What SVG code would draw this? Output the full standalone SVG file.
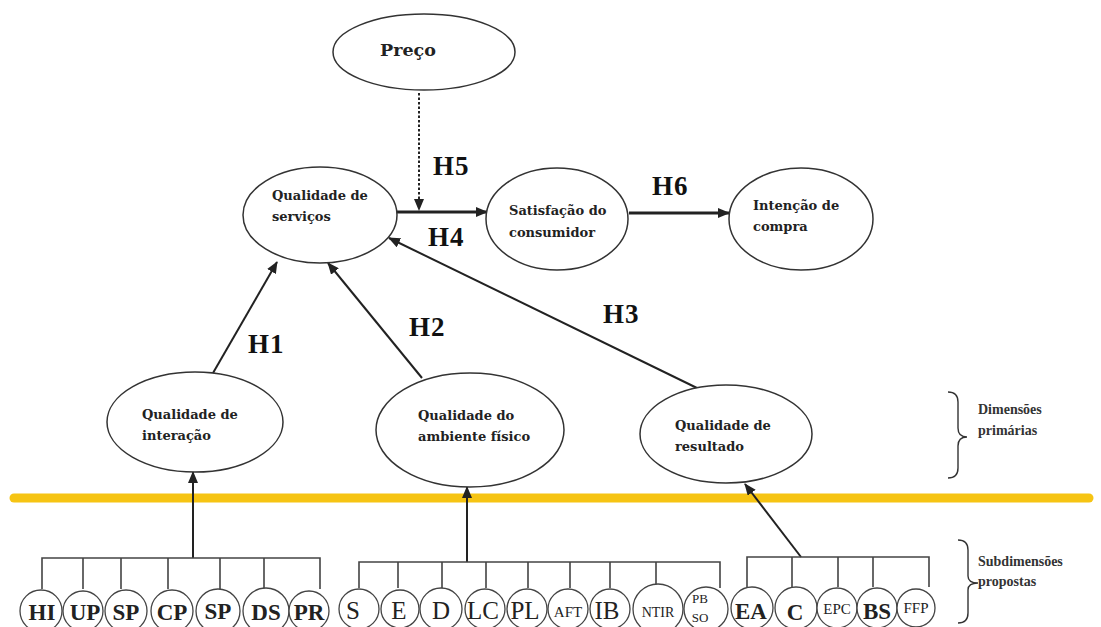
<svg xmlns="http://www.w3.org/2000/svg" width="1101" height="627" viewBox="0 0 1101 627">
  <style>
    .node { fill: #ffffff; stroke: #333333; stroke-width: 1.5; }
    .sub { fill: #ffffff; stroke: #444444; stroke-width: 1.3; }
    .lbl { font-family: "DejaVu Serif", "Liberation Serif", serif; font-weight: bold; font-size: 13px; fill: #222222; }
    .hyp { font-family: "Liberation Serif", "Times New Roman", serif; font-weight: bold; font-size: 27px; letter-spacing: 1px; fill: #111111; }
    .abbr { font-family: "Liberation Serif", "Times New Roman", serif; font-size: 25px; fill: #222222; text-anchor: middle; }
    .b { font-weight: bold; font-size: 23px; }
    .side { font-family: "Liberation Serif", "Times New Roman", serif; font-weight: bold; font-size: 14px; fill: #333333; }
    .edge { stroke: #222222; stroke-width: 2; fill: none; }
    .thick { stroke-width: 3; }
    .tree { stroke: #444444; stroke-width: 1.6; fill: none; }
    .brace { stroke: #333333; stroke-width: 1.4; fill: none; }
  </style>
  <defs>
    <marker id="arrow" viewBox="0 0 12 10" refX="11" refY="5" markerWidth="12" markerHeight="10" markerUnits="userSpaceOnUse" orient="auto">
      <path d="M0,0 L12,5 L0,10 Z" fill="#222222"/>
    </marker>
  </defs>

  <rect width="1101" height="627" fill="#ffffff"/>

  <!-- separator between primary dimensions and proposed subdimensions -->
  <line x1="14" y1="498" x2="1089" y2="498" stroke="#F6C413" stroke-width="9" stroke-linecap="round"/>

  <!-- connectors -->
  <g id="connectors">
    <line class="edge" x1="419" y1="93" x2="419" y2="210" stroke-dasharray="2.5 2" stroke-width="2.5" marker-end="url(#arrow)"/>
    <line class="edge thick" x1="397" y1="212" x2="487" y2="212" marker-end="url(#arrow)"/>
    <line class="edge thick" x1="629" y1="213" x2="729" y2="213" marker-end="url(#arrow)"/>
    <line class="edge" x1="213" y1="373" x2="277" y2="262" marker-end="url(#arrow)"/>
    <line class="edge" x1="422" y1="378" x2="328" y2="263" marker-end="url(#arrow)"/>
    <line class="edge" x1="697" y1="388" x2="389" y2="238" marker-end="url(#arrow)"/>
    <line class="edge" x1="193" y1="558" x2="193" y2="472" marker-end="url(#arrow)"/>
    <line class="edge" x1="467" y1="562" x2="467" y2="487" marker-end="url(#arrow)"/>
    <line class="edge" x1="801" y1="557" x2="745" y2="484" marker-end="url(#arrow)"/>

    <!-- subdimension trees -->
    <path class="tree" d="M42,589 V558 H320 V589 M83,558 V589 M121,558 V589 M168,558 V589 M220,558 V589 M264,558 V589"/>
    <path class="tree" d="M359,588 V562 H720 V588 M398,562 V588 M442,562 V588 M486,562 V588 M528,562 V588 M570,562 V588 M610,562 V588 M656,562 V588"/>
    <path class="tree" d="M747,587 V557 H929 V587 M792,557 V587 M838,557 V587 M873,557 V587"/>
  </g>

  <!-- hypothesis labels -->
  <g id="hypotheses">
    <text class="hyp" x="433" y="175">H5</text>
    <text class="hyp" x="428" y="246">H4</text>
    <text class="hyp" x="652" y="195">H6</text>
    <text class="hyp" x="248" y="353">H1</text>
    <text class="hyp" x="409" y="336">H2</text>
    <text class="hyp" x="603" y="323">H3</text>
  </g>

  <g id="preco">
    <ellipse class="node" cx="424" cy="52" rx="91" ry="38"/>
    <text class="lbl" x="380" y="56" style="font-size:17.5px">Preço</text>
  </g>
  <g id="qualidade-servicos">
    <ellipse class="node" cx="320" cy="215" rx="77" ry="48"/>
    <text class="lbl" x="272" y="200">Qualidade de</text>
    <text class="lbl" x="272" y="221">serviços</text>
  </g>
  <g id="satisfacao">
    <ellipse class="node" cx="557" cy="219" rx="71" ry="51"/>
    <text class="lbl" x="509" y="215">Satisfação do</text>
    <text class="lbl" x="509" y="237">consumidor</text>
  </g>
  <g id="intencao">
    <ellipse class="node" cx="801" cy="219" rx="72" ry="51"/>
    <text class="lbl" x="753" y="210">Intenção de</text>
    <text class="lbl" x="753" y="231">compra</text>
  </g>
  <g id="qualidade-interacao">
    <ellipse class="node" cx="195" cy="422" rx="88" ry="50"/>
    <text class="lbl" x="142" y="419">Qualidade de</text>
    <text class="lbl" x="142" y="440">interação</text>
  </g>
  <g id="qualidade-ambiente">
    <ellipse class="node" cx="470" cy="430" rx="94" ry="57"/>
    <text class="lbl" x="418" y="420">Qualidade do</text>
    <text class="lbl" x="418" y="441">ambiente físico</text>
  </g>
  <g id="qualidade-resultado">
    <ellipse class="node" cx="726" cy="434" rx="86" ry="49"/>
    <text class="lbl" x="675" y="430">Qualidade de</text>
    <text class="lbl" x="675" y="451">resultado</text>
  </g>

  <!-- side annotations -->
  <g id="dimensoes-primarias">
    <path class="brace" d="M948,392 Q958,392 958,402 V428 Q958,437 967,437 Q958,437 958,446 V468 Q958,478 948,478"/>
    <text class="side" x="978" y="414">Dimensões</text>
    <text class="side" x="978" y="435">primárias</text>
  </g>
  <g id="subdimensoes-propostas">
    <path class="brace" d="M958,540 Q968,540 968,550 V576 Q968,583 978,583 Q968,583 968,590 V613 Q968,623 958,623"/>
    <text class="side" x="978" y="566">Subdimensões</text>
    <text class="side" x="978" y="586">propostas</text>
  </g>

  <!-- subdimensions of interaction quality -->
  <g id="sub-interacao">
    <g id="s-hi"><circle class="sub" cx="41" cy="611" r="21"/><text class="abbr b" x="42" y="620">HI</text></g>
    <g id="s-up"><circle class="sub" cx="83" cy="611" r="20"/><text class="abbr b" x="85" y="620">UP</text></g>
    <g id="s-sp1"><circle class="sub" cx="126" cy="611" r="21"/><text class="abbr b" x="126" y="620">SP</text></g>
    <g id="s-cp"><circle class="sub" cx="172" cy="611" r="21"/><text class="abbr b" x="172" y="620">CP</text></g>
    <g id="s-sp2"><circle class="sub" cx="218" cy="611" r="22"/><text class="abbr b" x="218" y="619">SP</text></g>
    <g id="s-ds"><circle class="sub" cx="266" cy="611" r="23"/><text class="abbr b" x="266" y="620">DS</text></g>
    <g id="s-pr"><circle class="sub" cx="309" cy="611" r="20"/><text class="abbr b" x="309" y="620">PR</text></g>
  </g>

  <!-- subdimensions of physical environment quality -->
  <g id="sub-ambiente">
    <g id="s-s"><circle class="sub" cx="359" cy="609" r="20"/><text class="abbr" x="353" y="619">S</text></g>
    <g id="s-e"><circle class="sub" cx="400" cy="609" r="19"/><text class="abbr" x="399" y="619">E</text></g>
    <g id="s-d"><circle class="sub" cx="441" cy="609" r="21"/><text class="abbr" x="441" y="619">D</text></g>
    <g id="s-lc"><circle class="sub" cx="485" cy="609" r="20"/><text class="abbr" x="483" y="619">LC</text></g>
    <g id="s-pl"><circle class="sub" cx="527" cy="609" r="20"/><text class="abbr" x="525" y="619">PL</text></g>
    <g id="s-aft"><circle class="sub" cx="568" cy="609" r="20"/><text class="abbr" x="568" y="617" style="font-size:15px">AFT</text></g>
    <g id="s-ib"><circle class="sub" cx="610" cy="609" r="20"/><text class="abbr" x="607" y="619">IB</text></g>
    <g id="s-ntir"><circle class="sub" cx="658" cy="609" r="25"/><text class="abbr" x="658" y="617" style="font-size:14px">NTIR</text></g>
    <g id="s-pbso"><circle class="sub" cx="706" cy="609" r="22"/><text class="abbr" x="700" y="603" style="font-size:13px">PB</text><text class="abbr" x="700" y="622" style="font-size:13px">SO</text></g>
  </g>

  <!-- subdimensions of outcome quality -->
  <g id="sub-resultado">
    <g id="s-ea"><circle class="sub" cx="752" cy="608" r="21"/><text class="abbr b" x="751" y="619">EA</text></g>
    <g id="s-c"><circle class="sub" cx="796" cy="608" r="21"/><text class="abbr b" x="795" y="620">C</text></g>
    <g id="s-epc"><circle class="sub" cx="837" cy="608" r="20"/><text class="abbr" x="837" y="614" style="font-size:15px">EPC</text></g>
    <g id="s-bs"><circle class="sub" cx="877" cy="608" r="20"/><text class="abbr b" x="877" y="619">BS</text></g>
    <g id="s-ffp"><circle class="sub" cx="916" cy="608" r="19"/><text class="abbr" x="916" y="613" style="font-size:15px">FFP</text></g>
  </g>
</svg>
